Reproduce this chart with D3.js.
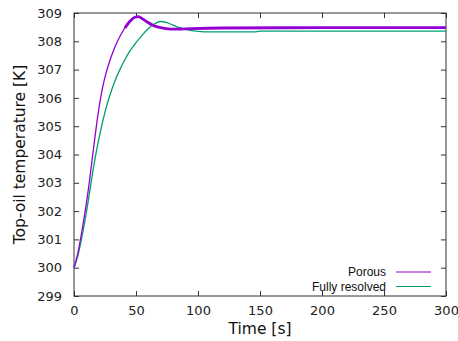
<!DOCTYPE html>
<html>
<head>
<meta charset="utf-8">
<script src="https://cdn.jsdelivr.net/npm/d3@7"></script>
<style>
  body { margin: 0; background: #fff; }
  svg { display: block; }
  .tick text { font-family: "DejaVu Sans", sans-serif; font-size: 13px; fill: #222; }
  .title { font-family: "DejaVu Sans", sans-serif; font-size: 15.5px; fill: #111; }
  .legend { font-family: "Liberation Sans", Arial, sans-serif; font-size: 12px; fill: #111; }
</style>
</head>
<body>
<div id="chart"></div>
<script>
// series: time [s] and top-oil temperature [K]
const porousTime = [0, 3, 6, 9, 12, 14, 17, 20, 23, 26, 29, 33, 37, 41, 45, 49, 52, 55, 59, 63, 68, 74, 82, 95, 120, 200, 300];
const porousTemp = [300.0, 300.5, 301.2, 302.0, 302.9, 303.6, 304.65, 305.6, 306.35, 306.9, 307.33, 307.8, 308.17, 308.47, 308.7, 308.85, 308.87, 308.8, 308.68, 308.58, 308.5, 308.45, 308.43, 308.45, 308.47, 308.48, 308.48];

const resolvedTime = [0, 3, 6, 9, 12, 15, 18, 21, 25, 29, 33, 37, 41, 45, 50, 55, 60, 65, 70, 75, 80, 85, 90, 100, 110, 145, 150, 200, 300];
const resolvedTemp = [300.0, 300.4, 301.0, 301.7, 302.5, 303.35, 304.1, 304.75, 305.5, 306.1, 306.6, 307.0, 307.35, 307.65, 307.95, 308.22, 308.45, 308.62, 308.7, 308.66, 308.57, 308.48, 308.42, 308.35, 308.33, 308.33, 308.36, 308.36, 308.36];

const xTicks = [0, 50, 100, 150, 200, 250, 300];
const yTicks = [299, 300, 301, 302, 303, 304, 305, 306, 307, 308, 309];
const seriesNames = ["Porous", "Fully resolved"];
const seriesColors = ["#9400d3", "#009e73"];

const width = 458, height = 341;
const margin = {left: 74, right: 12, top: 13, bottom: 45};
const innerW = width - margin.left - margin.right;
const innerH = height - margin.top - margin.bottom;

const svg = d3.select("#chart").append("svg")
  .attr("width", width)
  .attr("height", height);

const g = svg.append("g")
  .attr("transform", "translate(" + margin.left + "," + margin.top + ")");

const x = d3.scaleLinear().domain([0, 300]).range([0, innerW]);
const y = d3.scaleLinear().domain([299, 309]).range([innerH, 0]);

// axes: ticks point inward, mirrored on top and right like gnuplot
g.append("g")
  .attr("transform", "translate(0," + innerH + ")")
  .call(d3.axisBottom(x).tickValues(xTicks).tickSizeInner(-5).tickSizeOuter(0).tickPadding(10))
  .call(a => a.select(".domain").remove());
g.append("g")
  .call(d3.axisLeft(y).tickValues(yTicks).tickSizeInner(-5).tickSizeOuter(0).tickPadding(12))
  .call(a => a.select(".domain").remove());
g.append("g")
  .call(d3.axisTop(x).tickValues(xTicks).tickSizeInner(-5).tickSizeOuter(0).tickFormat(""))
  .call(a => a.select(".domain").remove());
g.append("g")
  .attr("transform", "translate(" + innerW + ",0)")
  .call(d3.axisRight(y).tickValues(yTicks).tickSizeInner(-5).tickSizeOuter(0).tickFormat(""))
  .call(a => a.select(".domain").remove());
g.selectAll(".tick line").attr("stroke", "#333");

// plot frame
g.append("rect")
  .attr("width", innerW)
  .attr("height", innerH)
  .attr("fill", "none")
  .attr("stroke", "#333")
  .attr("stroke-width", 1);

const line = d3.line()
  .x(d => x(d[0]))
  .y(d => y(d[1]))
  .curve(d3.curveMonotoneX);

const resolved = resolvedTime.map((t, i) => [t, resolvedTemp[i]]);
const porous = porousTime.map((t, i) => [t, porousTemp[i]]);

g.append("path")
  .datum(resolved)
  .attr("fill", "none")
  .attr("stroke", seriesColors[1])
  .attr("stroke-width", 1.3)
  .attr("d", line);

g.append("path")
  .datum(porous)
  .attr("fill", "none")
  .attr("stroke", seriesColors[0])
  .attr("stroke-width", 1.3)
  .attr("d", line);

// the porous signal oscillates slightly once it nears the peak, so it reads thicker there
g.append("path")
  .datum(porous.filter(d => d[0] >= 41))
  .attr("fill", "none")
  .attr("stroke", seriesColors[0])
  .attr("stroke-width", 2.8)
  .attr("d", line);

// axis titles
svg.append("text")
  .attr("class", "title")
  .attr("x", margin.left + innerW / 2)
  .attr("y", 334)
  .attr("text-anchor", "middle")
  .text("Time [s]");

svg.append("text")
  .attr("class", "title")
  .attr("transform", "translate(25," + (margin.top + innerH / 2) + ") rotate(-90)")
  .attr("text-anchor", "middle")
  .text("Top-oil temperature [K]");

// legend
const legend = svg.append("g");
seriesNames.forEach((name, i) => {
  const ly = 272 + i * 14.5;
  legend.append("text")
    .attr("class", "legend")
    .attr("x", 386)
    .attr("y", ly + 4)
    .attr("text-anchor", "end")
    .text(name);
  legend.append("line")
    .attr("x1", 396).attr("x2", 431)
    .attr("y1", ly).attr("y2", ly)
    .attr("stroke", seriesColors[i])
    .attr("stroke-width", 1);
});
</script>
</body>
</html>
